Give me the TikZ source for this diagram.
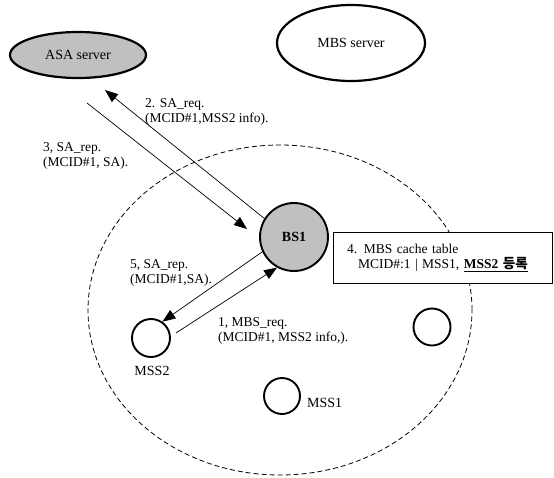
\documentclass[tikz,border=0pt]{standalone}
\usepackage{fontspec}
\setmainfont{Liberation Serif}
\newfontfamily\krfont{Noto Sans CJK KR}
\usetikzlibrary{shapes.geometric,arrows.meta}
\definecolor{nodegray}{HTML}{C0C0C0}
\begin{document}
\begin{tikzpicture}[x=1pt,y=-1pt,
  font=\fontsize{13.5}{15}\selectfont,
  server/.style={draw, ellipse, line width=2.2pt, inner sep=0pt, font=\fontsize{14}{16}\selectfont},
  station/.style={draw, circle, line width=1.9pt, inner sep=0pt},
  lbl/.style={anchor=base west, align=left, inner sep=0pt},
  msg/.style={line width=0.7pt, -{Triangle[length=13pt,width=10pt]}},
  cellstyle/.style={draw, ellipse, dash pattern=on 5pt off 3pt, line width=0.8pt, inner sep=0pt}
]
\useasboundingbox (0,0) rectangle (554,477);

% cell coverage
\node[cellstyle, minimum width=384pt, minimum height=330pt] (cell) at (280,310) {};

% servers
\node[server, fill=nodegray, minimum width=136pt, minimum height=46pt] (asa) at (78,55) {ASA server};
\node[server, minimum width=148pt, minimum height=76pt] (mbs) at (351,43) {MBS server};

% stations
\node[station, fill=nodegray, minimum size=68pt, font=\fontsize{14}{16}\selectfont\bfseries] (bs1) at (294,237) {BS1};
\node[station, minimum size=38pt] (mss2) at (151,338) {};
\node[station, minimum size=36pt] (mss1) at (282,396) {};
\node[station, minimum size=37pt] (mss3) at (432,327) {};

\node[anchor=base, inner sep=0pt, font=\fontsize{14}{16}\selectfont] (mss2lbl) at (152,375) {MSS2};
\node[anchor=base west, inner sep=0pt, font=\fontsize{14}{16}\selectfont] (mss1lbl) at (307,407) {MSS1};

% cache table box
\node[draw, fill=white, line width=0.8pt, align=left, text width=205pt, minimum height=51pt, inner xsep=7pt, inner ysep=0pt]
  (cache) at (442.5,257.5) {\hspace*{7pt}4. MBS cache table\\\mbox{\hspace*{18pt}MCID\#:1 | MSS1, \underline{\textbf{MSS2 {\krfont 등록}}}}};

% connector end points
\coordinate (a2end) at (105,90);
\coordinate (a3start) at (87,103);
\coordinate (a3end) at (247,229);

% messages
\draw[msg] (bs1.148) -- (a2end);
\draw[msg] (a3start) -- (a3end);
\draw[msg] (bs1.205) -- (mss2.55);
\draw[msg, shorten <=6pt] (mss2.5) -- (bs1.241);

% message labels (anchor at baseline of last line)
\node[lbl] (l2) at (145,122) {2. SA\_req.\\(MCID\#1,MSS2 info).};
\node[lbl] (l3) at (43,166) {3, SA\_rep.\\(MCID\#1, SA).};
\node[lbl] (l5) at (130,283) {5, SA\_rep.\\(MCID\#1,SA).};
\node[lbl] (l1) at (218,341) {1, MBS\_req.\\(MCID\#1, MSS2 info,).};
\end{tikzpicture}
\end{document}
